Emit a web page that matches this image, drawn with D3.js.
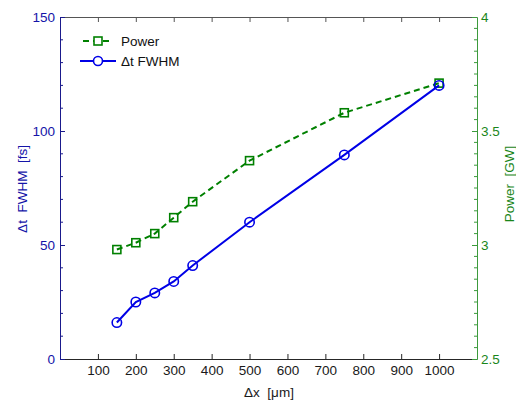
<!DOCTYPE html>
<meta charset="utf-8">
<html>
<head>
<style>
  body { margin: 0; background: #fff; }
  svg { font-family: "Liberation Sans", Arial, sans-serif; }
</style>
<script src="https://d3js.org/d3.v7.min.js"></script>
</head>
<body>
<svg width="516" height="401"></svg>
<script>
  // Data
  var dx = [150, 200, 250, 300, 350, 500, 750, 1000];
  var fwhm = [16, 25, 29, 34, 41, 60, 89.5, 120];
  var power = [2.98, 3.01, 3.05, 3.12, 3.19, 3.37, 3.58, 3.71];
  var xTicks = [100, 200, 300, 400, 500, 600, 700, 800, 900, 1000];
  var leftTicks = [0, 50, 100, 150];
  var rightTicks = [2.5, 3, 3.5, 4];

  var blue = "#0000e6", green = "#008000";
  var blueText = "#1414a8", greenText = "#1a861a";

  var svg = d3.select("svg");
  var L = 60, T = 17, R = 477, B = 359;

  var x = d3.scaleLinear().domain([0, 1100]).range([L, R]);
  var yL = d3.scaleLinear().domain([0, 150]).range([B, T]);
  var yR = d3.scaleLinear().domain([2.5, 4]).range([B, T]);

  // minor ticks
  var gm = svg.append("g");
  d3.range(0, 151, 10).forEach(function (v) {
    if (v % 50) gm.append("line").attr("x1", L).attr("x2", L + 3)
      .attr("y1", yL(v)).attr("y2", yL(v)).attr("stroke", "#1a1a8c");
  });
  d3.range(0, 31).forEach(function (i) {
    var v = 2.5 + i * 0.05;
    if (i % 10) gm.append("line").attr("x1", R).attr("x2", R - 3)
      .attr("y1", yR(v)).attr("y2", yR(v)).attr("stroke", "#3c9a3c");
  });

  // axes (ticks point inward)
  var gBottom = svg.append("g").attr("transform", "translate(0," + B + ")")
      .call(d3.axisBottom(x).tickValues(xTicks).tickSizeInner(-5).tickSizeOuter(0).tickPadding(6)
        .tickFormat(d3.format("d")));
  gBottom.select(".domain").attr("stroke", "#262626");
  gBottom.selectAll(".tick line").attr("stroke", "#262626");
  gBottom.selectAll("text").attr("fill", "#1a1a1a").style("font-size", "13.5px");

  var gTop = svg.append("g").attr("transform", "translate(0," + T + ")")
      .call(d3.axisTop(x).tickValues(xTicks).tickSizeInner(-5).tickSizeOuter(0).tickFormat(""));
  gTop.select(".domain").attr("stroke", "#555");
  gTop.selectAll(".tick line").attr("stroke", "#555");

  var gLeft = svg.append("g").attr("transform", "translate(" + L + ",0)")
      .call(d3.axisLeft(yL).tickValues(leftTicks).tickSizeInner(-5).tickSizeOuter(0).tickPadding(5));
  gLeft.select(".domain").attr("stroke", "#1a1a8c");
  gLeft.selectAll(".tick line").attr("stroke", "#1a1a8c");
  gLeft.selectAll("text").attr("fill", blueText).style("font-size", "13.5px");

  var gRight = svg.append("g").attr("transform", "translate(" + R + ",0)")
      .call(d3.axisRight(yR).tickValues(rightTicks).tickSizeInner(-5).tickSizeOuter(0).tickPadding(4)
        .tickFormat(d3.format("")));
  gRight.select(".domain").attr("stroke", "#3c9a3c");
  gRight.selectAll(".tick line").attr("stroke", "#3c9a3c");
  gRight.selectAll("text").attr("fill", greenText).style("font-size", "13.5px");

  // series
  var lineP = d3.line().x(function (d, i) { return x(dx[i]); }).y(function (d) { return yR(d); });
  var lineF = d3.line().x(function (d, i) { return x(dx[i]); }).y(function (d) { return yL(d); });

  svg.append("path").datum(power).attr("d", lineP).attr("fill", "none")
      .attr("stroke", green).attr("stroke-width", 2).attr("stroke-dasharray", "6,4");
  svg.selectAll(".sq").data(power).enter().append("rect")
      .attr("x", function (d, i) { return x(dx[i]) - 4; })
      .attr("y", function (d) { return yR(d) - 4; })
      .attr("width", 8).attr("height", 8)
      .attr("fill", "none").attr("stroke", green).attr("stroke-width", 1.6);

  svg.append("path").datum(fwhm).attr("d", lineF).attr("fill", "none")
      .attr("stroke", blue).attr("stroke-width", 2);
  svg.selectAll(".ci").data(fwhm).enter().append("circle")
      .attr("cx", function (d, i) { return x(dx[i]); })
      .attr("cy", function (d) { return yL(d); })
      .attr("r", 4.7)
      .attr("fill", "none").attr("stroke", blue).attr("stroke-width", 1.6);

  // legend
  var lg = svg.append("g");
  lg.append("line").attr("x1", 83).attr("x2", 113).attr("y1", 41).attr("y2", 41)
      .attr("stroke", green).attr("stroke-width", 2).attr("stroke-dasharray", "6,4");
  lg.append("rect").attr("x", 94).attr("y", 37).attr("width", 8).attr("height", 8)
      .attr("fill", "#fff").attr("stroke", green).attr("stroke-width", 1.6);
  lg.append("text").attr("x", 121).attr("y", 46).text("Power")
      .style("font-size", "13.5px").attr("fill", "#111");
  lg.append("line").attr("x1", 80).attr("x2", 116).attr("y1", 61).attr("y2", 61)
      .attr("stroke", blue).attr("stroke-width", 2);
  lg.append("circle").attr("cx", 98).attr("cy", 61).attr("r", 4.5)
      .attr("fill", "#fff").attr("stroke", blue).attr("stroke-width", 1.6);
  lg.append("text").attr("x", 121).attr("y", 66).text("\u0394t FWHM")
      .style("font-size", "13.5px").attr("fill", "#111");

  // axis labels
  svg.append("text").attr("x", 269).attr("y", 397).attr("text-anchor", "middle")
      .style("font-size", "13.5px").attr("fill", "#1a1a1a").attr("xml:space", "preserve")
      .text("\u0394x  [\u03bcm]");
  svg.append("text").attr("transform", "translate(27,189) rotate(-90)")
      .attr("text-anchor", "middle").style("font-size", "13.5px").attr("fill", blueText)
      .attr("xml:space", "preserve").text("\u0394t  FWHM  [fs]");
  svg.append("text").attr("transform", "translate(514,184) rotate(-90)")
      .attr("text-anchor", "middle").style("font-size", "13.5px").attr("fill", greenText)
      .attr("xml:space", "preserve").text("Power  [GW]");
</script>
</body>
</html>
